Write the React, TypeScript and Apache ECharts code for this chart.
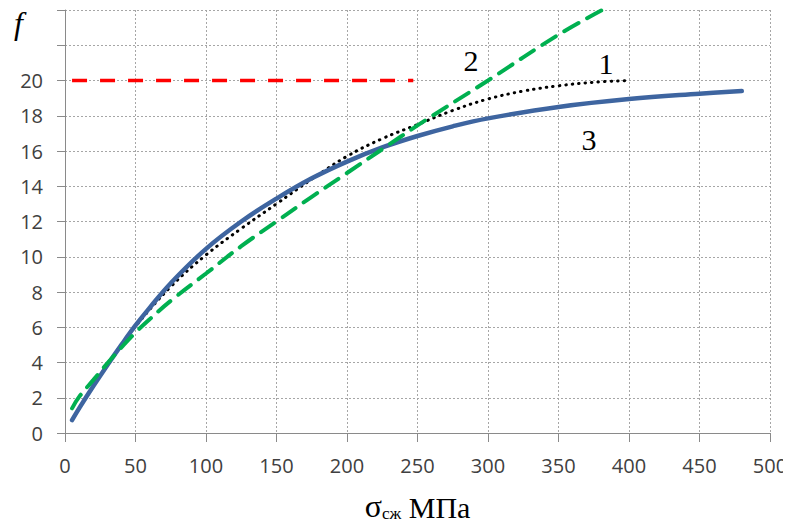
import React, { useEffect, useRef } from "react";
import * as echarts from "echarts";

// Curve 3 (solid blue)
const curve3: [number, number][] = [
  [5, 0.73], [10, 1.4], [20, 2.65], [30, 3.85], [40, 5.0], [50, 6.1], [60, 7.1],
  [75, 8.5], [100, 10.45], [125, 12.0], [150, 13.3], [175, 14.45], [200, 15.4],
  [225, 16.2], [250, 16.85], [275, 17.4], [300, 17.85], [350, 18.5], [400, 18.95],
  [450, 19.25], [480, 19.4],
];
// Curve 1 (black dotted)
const curve1: [number, number][] = [
  [5, 0.73], [20, 2.65], [35, 4.45], [50, 6.05], [75, 8.3], [100, 10.1], [125, 11.6],
  [150, 13.0], [175, 14.4], [200, 15.7], [225, 16.7], [250, 17.5], [275, 18.3],
  [300, 18.95], [325, 19.4], [350, 19.7], [375, 19.9], [400, 20.0],
];
// Curve 2 (green dashed)
const curve2: [number, number][] = [
  [5, 1.4], [10, 2.05], [20, 3.0], [30, 3.95], [40, 4.85], [50, 5.7], [60, 6.45],
  [75, 7.5], [100, 9.05], [125, 10.6], [150, 12.0], [175, 13.4], [200, 14.75],
  [225, 16.1], [250, 17.45], [300, 20.0], [350, 22.6], [381, 24.0],
];
// Limit line (red dashed)
const limitLine: [number, number][] = [
  [5, 20], [247, 20],
];

const xTicks = { min: 0, max: 500, interval: 50 };
const yTicks = { min: 0, max: 24, interval: 2, lastLabel: 20 };

const curveLabels = [
  { text: "1", x: 606, y: 63 },
  { text: "2", x: 471, y: 60 },
  { text: "3", x: 589, y: 139 },
];

export default function App() {
  const ref = useRef<HTMLDivElement>(null);
  useEffect(() => {
    if (!ref.current) return;
    const chart = echarts.init(ref.current, undefined, { renderer: "svg" });
    const axisColor = "#8a8a8a";
    const labelColor = "#404040";
    const gridLine = { show: true, lineStyle: { color: "#a6a6a6", type: [2, 2] as any, width: 1 } };
    chart.setOption({
      animation: false,
      backgroundColor: "#ffffff",
      grid: { left: 65, right: 21, top: 10, bottom: 89, containLabel: false },
      xAxis: {
        type: "value",
        min: xTicks.min,
        max: xTicks.max,
        interval: xTicks.interval,
        axisLine: { show: true, onZero: false, lineStyle: { color: axisColor, width: 1 } },
        axisTick: { show: true, length: 9, lineStyle: { color: axisColor } },
        axisLabel: { color: labelColor, fontSize: 20, fontFamily: "Open Sans", margin: 22 },
        splitLine: gridLine,
        name: "{s|σ}{sub|сж}{m| МПа}",
        nameLocation: "middle",
        nameGap: 55,
        nameTextStyle: {
          rich: {
            s: { fontSize: 32, fontFamily: "Liberation Serif", color: "#000", lineHeight: 34, verticalAlign: "bottom" },
            sub: { fontSize: 17, fontFamily: "Liberation Serif", color: "#000", lineHeight: 16, verticalAlign: "bottom" },
            m: { fontSize: 30, fontFamily: "Liberation Serif", color: "#000", lineHeight: 34, verticalAlign: "bottom" },
          },
        },
      },
      yAxis: {
        type: "value",
        min: yTicks.min,
        max: yTicks.max,
        interval: yTicks.interval,
        axisLine: { show: true, lineStyle: { color: axisColor, width: 1 } },
        axisTick: { show: true, length: 8, lineStyle: { color: axisColor } },
        axisLabel: {
          color: labelColor,
          fontSize: 20,
          fontFamily: "Open Sans",
          margin: 22,
          formatter: (v: number) => (v <= yTicks.lastLabel ? String(v) : ""),
        },
        splitLine: gridLine,
      },
      graphic: [
        {
          type: "text",
          left: 14,
          top: 7,
          style: { text: "f", font: "italic 32px 'Liberation Serif'", fill: "#000" },
        },
        ...curveLabels.map((l) => ({
          type: "text",
          x: l.x,
          y: l.y,
          style: {
            text: l.text,
            font: "30px 'Liberation Serif'",
            fill: "#000",
            align: "center",
            verticalAlign: "middle",
          },
        })),
      ],
      series: [
        {
          type: "line",
          data: limitLine,
          symbol: "none",
          lineStyle: { color: "#ff0000", width: 3.5, type: [15, 13] },
          z: 3,
        },
        {
          type: "line",
          data: curve1,
          smooth: 0.4,
          symbol: "none",
          lineStyle: { color: "#000000", width: 3, type: [0.5, 6], cap: "round" },
          z: 4,
        },
        {
          type: "line",
          data: curve3,
          smooth: 0.4,
          symbol: "none",
          lineStyle: { color: "#3e65a0", width: 4.5, cap: "round" },
          z: 5,
        },
        {
          type: "line",
          data: curve2,
          smooth: 0.4,
          symbol: "none",
          lineStyle: { color: "#00b050", width: 4, type: [16, 10], cap: "round" },
          z: 6,
        },
      ],
    });
    return () => chart.dispose();
  }, []);
  return <div ref={ref} style={{ width: 791, height: 527, margin: -8 }} />;
}
